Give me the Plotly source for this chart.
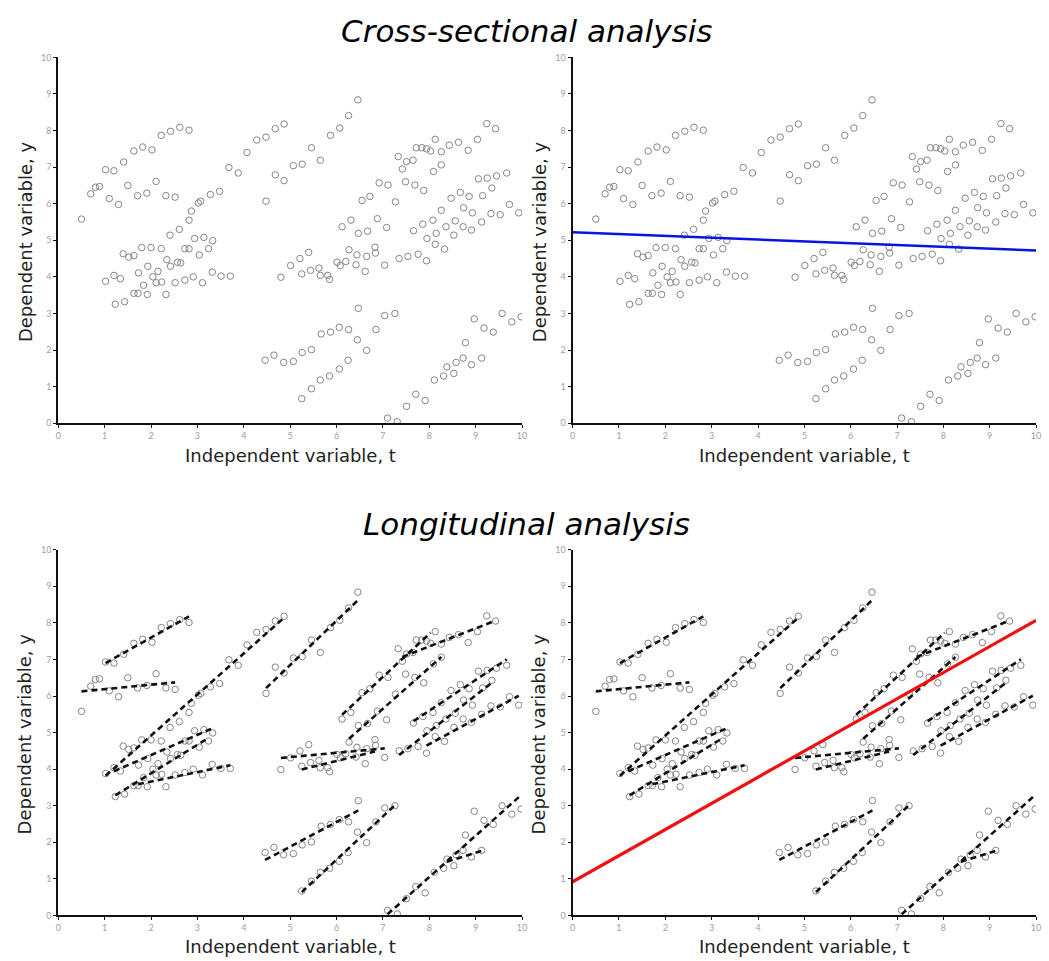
import numpy as np
import plotly.graph_objects as go

# ---- data: individuals (time t, response y) ----
A_t = [1.02, 1.2, 1.41, 1.63, 1.82, 2.02, 2.22, 2.42, 2.62, 2.82]
A_y = [6.93, 6.9, 7.14, 7.44, 7.55, 7.47, 7.87, 7.98, 8.09, 8.01]
B_t = [0.5, 0.7, 0.8, 0.89, 1.1, 1.3, 1.5, 1.71, 1.91, 2.11, 2.32, 2.52]
B_y = [5.58, 6.27, 6.45, 6.47, 6.14, 5.98, 6.5, 6.22, 6.29, 6.61, 6.22, 6.18]
C_t = [1.02, 1.4, 1.52, 1.63, 1.8, 2.0, 2.41, 2.61, 2.82, 2.87, 3.02, 3.07, 3.28, 3.48, 3.68, 3.88, 4.07, 4.28, 4.48, 4.68, 4.87]
C_y = [3.88, 4.63, 4.54, 4.58, 4.8, 4.8, 5.14, 5.3, 5.55, 5.8, 6.02, 6.07, 6.25, 6.34, 6.99, 6.84, 7.4, 7.74, 7.82, 8.05, 8.18]
D_t = [1.2, 1.34, 1.73, 1.93, 2.22, 2.34, 2.73, 2.82, 2.94, 3.14, 3.33]
D_y = [4.04, 3.95, 4.11, 4.29, 4.77, 4.47, 4.77, 4.77, 5.05, 5.08, 4.99]
E_t = [1.23, 1.43, 1.63, 1.84, 2.04, 2.15, 2.42, 2.57, 2.64, 3.04, 3.24]
E_y = [3.25, 3.32, 3.55, 3.77, 4.0, 4.15, 4.29, 4.4, 4.38, 4.6, 4.77]
F_t = [1.72, 1.92, 2.11, 2.23, 2.32, 2.52, 2.73, 2.91, 3.11, 3.32, 3.51, 3.71]
F_y = [3.55, 3.52, 3.84, 3.86, 3.52, 3.84, 3.91, 4.0, 3.84, 4.13, 4.02, 4.02]
G_t = [4.48, 4.68, 4.87, 5.07, 5.26, 5.46, 5.65, 5.87, 6.07, 6.26, 6.46]
G_y = [6.07, 6.79, 6.63, 7.04, 7.08, 7.53, 7.19, 7.87, 8.07, 8.41, 8.84]
I_t = [6.12, 6.31, 6.55, 6.72, 6.92, 7.11, 7.33, 7.51, 7.72, 7.84, 7.94, 8.03]
I_y = [5.37, 5.55, 6.09, 6.2, 6.57, 6.51, 7.29, 7.15, 7.53, 7.53, 7.5, 7.44]
J_t = [7.42, 7.65, 8.13, 8.26, 8.43, 8.63, 8.84, 9.04, 9.24, 9.43]
J_y = [6.95, 7.19, 7.76, 7.42, 7.6, 7.68, 7.46, 7.76, 8.19, 8.05]
K_t = [6.27, 6.47, 6.67, 6.88, 7.08, 7.27, 7.49, 7.69, 7.88, 8.09, 8.26]
K_y = [4.74, 5.19, 5.25, 5.59, 5.35, 6.05, 6.6, 6.51, 6.36, 6.88, 7.06]
L_t = [7.66, 7.86, 8.08, 8.26, 8.47, 8.67, 8.86, 9.06, 9.25, 9.45, 9.67]
L_y = [5.26, 5.44, 5.55, 5.82, 6.15, 6.31, 6.2, 6.68, 6.7, 6.76, 6.84]
M_t = [7.35, 7.54, 7.76, 7.95, 8.15, 8.36, 8.56, 8.74, 8.93, 9.15, 9.35]
M_y = [4.5, 4.56, 4.62, 5.05, 5.19, 5.37, 5.53, 5.89, 5.75, 6.22, 6.43]
N_t = [7.94, 8.13, 8.33, 8.53, 8.73, 8.91, 9.13, 9.33, 9.53, 9.73, 9.93]
N_y = [4.44, 4.89, 4.76, 5.14, 5.37, 5.28, 5.5, 5.73, 5.7, 5.98, 5.75]
O_t = [4.8, 5.01, 5.21, 5.4, 6.01, 6.2, 6.44, 6.65, 6.84, 7.04]
O_y = [3.99, 4.31, 4.5, 4.67, 4.4, 4.42, 4.6, 4.56, 4.65, 4.32]
P_t = [5.25, 5.44, 5.62, 5.65, 5.81, 5.85, 6.08, 6.42, 6.62, 6.83]
P_y = [4.08, 4.18, 4.24, 4.04, 4.04, 3.93, 4.31, 4.33, 4.15, 4.81]
Q_t = [4.46, 4.65, 4.86, 5.07, 5.26, 5.46, 5.67, 5.87, 6.06, 6.26, 6.47]
Q_y = [1.72, 1.86, 1.66, 1.69, 1.93, 2.01, 2.44, 2.49, 2.62, 2.56, 3.14]
R_t = [5.25, 5.46, 5.65, 5.85, 6.06, 6.25, 6.45, 6.65, 6.85, 7.04, 7.26]
R_y = [0.67, 0.94, 1.18, 1.29, 1.48, 1.72, 2.28, 1.99, 2.56, 2.94, 3.0]
S_t = [7.1, 7.31, 7.51, 7.71, 7.91, 8.11, 8.31, 8.58, 8.78, 8.97, 9.18, 9.38, 9.57, 9.78, 9.98]
S_y = [0.14, 0.04, 0.46, 0.79, 0.62, 1.18, 1.29, 1.66, 2.2, 2.85, 2.6, 2.49, 3.0, 2.77, 2.91]
T_t = [8.38, 8.53, 8.73, 8.91, 9.13]
T_y = [1.54, 1.36, 1.78, 1.6, 1.78]

# population-level fits
cross_intercept, cross_slope = 5.22, -0.05
long_intercept, long_slope = 0.92, 0.715

tick_values = list(range(0, 11))
title_top = "Cross-sectional analysis"
title_bottom = "Longitudinal analysis"
x_label = "Independent variable, t"
y_label = "Dependent variable, y"

groups = [(A_t, A_y), (B_t, B_y), (C_t, C_y), (D_t, D_y), (E_t, E_y), (F_t, F_y),
          (G_t, G_y), (I_t, I_y), (J_t, J_y), (K_t, K_y), (L_t, L_y), (M_t, M_y),
          (N_t, N_y), (O_t, O_y), (P_t, P_y), (Q_t, Q_y), (R_t, R_y), (S_t, S_y),
          (T_t, T_y)]

all_t = [v for g in groups for v in g[0]]
all_y = [v for g in groups for v in g[1]]

fig = go.Figure()
panels = [("x", "y"), ("x2", "y2"), ("x3", "y3"), ("x4", "y4")]

marker = dict(symbol="circle-open", size=6.5, color="#858585", line=dict(width=1, color="#858585"))
for xa, ya in panels:
    fig.add_trace(go.Scatter(x=all_t, y=all_y, mode="markers", marker=marker,
                             xaxis=xa, yaxis=ya, showlegend=False, hoverinfo="skip"))

# individual regression lines (longitudinal panels)
for xa, ya in panels[2:]:
    for gt, gy in groups:
        gt_a = np.array(gt); gy_a = np.array(gy)
        slope, icpt = np.polyfit(gt_a, gy_a, 1)
        xs = [gt_a.min(), gt_a.max()]
        fig.add_trace(go.Scatter(x=xs, y=[icpt + slope * v for v in xs], mode="lines",
                                 line=dict(color="#111111", width=2.6, dash="6px,4px"),
                                 xaxis=xa, yaxis=ya, showlegend=False, hoverinfo="skip"))

# cross-sectional fit (top right)
fig.add_trace(go.Scatter(x=[0, 10], y=[cross_intercept, cross_intercept + cross_slope * 10],
                         mode="lines", line=dict(color="#0a14e6", width=2.6),
                         xaxis="x2", yaxis="y2", showlegend=False))
# longitudinal fit (bottom right)
fig.add_trace(go.Scatter(x=[0, 10], y=[long_intercept, long_intercept + long_slope * 10],
                         mode="lines", line=dict(color="#f01010", width=3.2),
                         xaxis="x4", yaxis="y4", showlegend=False))

W, H = 1049, 961
xd_left = [55.7 / W, 523.0 / W]
xd_right = [574.0 / W, 1041.0 / W]
yd_top = [1 - 422.0 / H, 1 - 52.0 / H]
yd_bot = [1 - 920.0 / H, 1 - 550.0 / H]

def xax(domain, anchor):
    return dict(domain=domain, anchor=anchor, range=[0, 10], tickvals=tick_values,
                showline=True, linecolor="#111111", linewidth=2, ticks="outside",
                ticklen=3, tickwidth=1, tickcolor="#111111", showgrid=False, zeroline=False,
                tickfont=dict(family="Lato", size=9, color="#a0a0a0"))

fig.update_layout(
    width=W, height=H, margin=dict(l=0, r=0, t=0, b=0),
    paper_bgcolor="white", plot_bgcolor="white",
    xaxis=xax(xd_left, "y"), yaxis=xax(yd_top, "x"),
    xaxis2=xax(xd_right, "y2"), yaxis2=xax(yd_top, "x2"),
    xaxis3=xax(xd_left, "y3"), yaxis3=xax(yd_bot, "x3"),
    xaxis4=xax(xd_right, "y4"), yaxis4=xax(yd_bot, "x4"),
)

ann = []
title_font = dict(family="DejaVu Sans", size=31, color="#000000")
ann.append(dict(text="<i>" + title_top + "</i>", x=527.5 / W, y=1 - 25 / H, xref="paper", yref="paper",
                showarrow=False, font=title_font, xanchor="center", yanchor="middle"))
ann.append(dict(text="<i>" + title_bottom + "</i>", x=527.5 / W, y=1 - 524 / H, xref="paper", yref="paper",
                showarrow=False, font=title_font, xanchor="center", yanchor="middle"))
lab_font = dict(family="DejaVu Sans", size=18, color="#222222")
for xd in (xd_left, xd_right):
    for ytop in (442, 939):
        ann.append(dict(text=x_label, x=(xd[0] + xd[1]) / 2, y=1 - ytop / H, xref="paper", yref="paper",
                        showarrow=False, font=lab_font, xanchor="center", yanchor="top"))
for xpix in (22, 540):
    for ypix in (238, 736):
        ann.append(dict(text=y_label, x=xpix / W, y=1 - ypix / H, xref="paper", yref="paper",
                        showarrow=False, font=lab_font, textangle=-90, xanchor="center", yanchor="middle"))
fig.update_layout(annotations=ann)

fig.write_html("out.html")
